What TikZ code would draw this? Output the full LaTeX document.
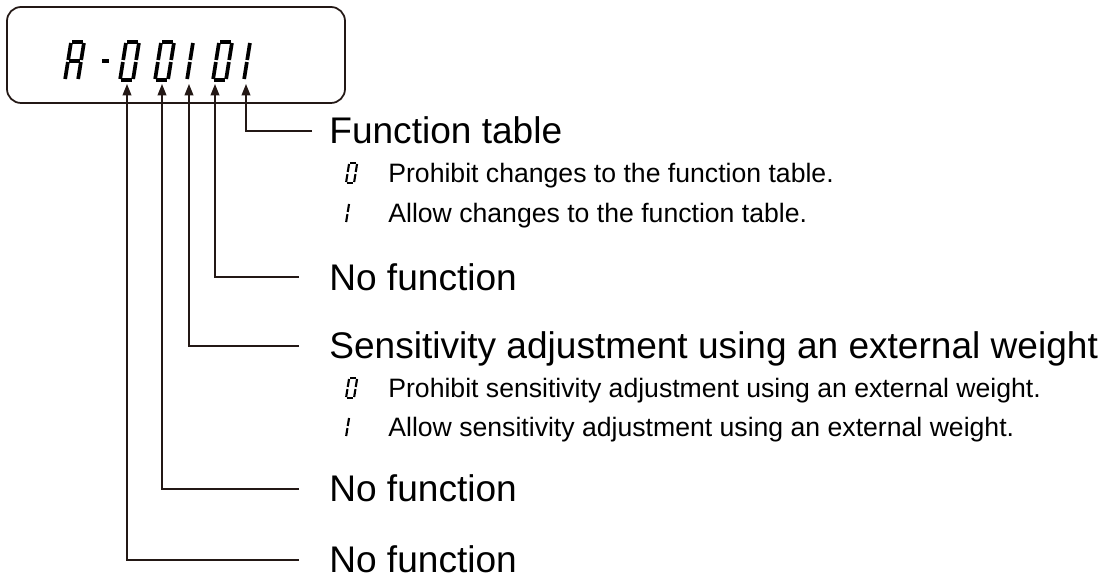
\documentclass[tikz,border=0pt]{standalone}
\usepackage{fontspec}
\setmainfont{Liberation Sans}
\usetikzlibrary{arrows.meta}
\definecolor{ink}{HTML}{231815}
\newcommand\sevseg[6]{% #1 x, #2 y bottom, #3 W, #4 H, #5 segments, #6 line width
  \begin{scope}[shift={(#1,#2)},x=0.02cm,y=0.02cm,xslant=0.16,line width=#6,line cap=butt]
    \pgfmathsetmacro\sW{#3}\pgfmathsetmacro\sH{#4}\pgfmathsetmacro\sM{#4/2}
    \def\sg{1.0}
    \foreach \s in {#5}{%
      \ifcase\s
        \draw (\sg,\sH) -- (\sW-\sg,\sH);
      \or
        \draw (\sW,\sH-\sg) -- (\sW,\sM+\sg);
      \or
        \draw (\sW,\sM-\sg) -- (\sW,\sg);
      \or
        \draw (\sg,0) -- (\sW-\sg,0);
      \or
        \draw (0,\sg) -- (0,\sM-\sg);
      \or
        \draw (0,\sM+\sg) -- (0,\sH-\sg);
      \or
        \draw (\sg,\sM) -- (\sW-\sg,\sM);
      \fi}
  \end{scope}}
\tikzset{
  conn/.style={draw=ink,line width=0.85pt,-{Triangle[length=6.5pt,width=5pt]}},
  big/.style={inner sep=0pt,anchor=base west,font=\fontsize{21.1}{25}\selectfont},
  small/.style={inner sep=0pt,anchor=base west,font=\fontsize{15.15}{18}\selectfont},
  panel/.style={draw=ink,line width=1pt,rounded corners=8pt}
}
\begin{document}
\begin{tikzpicture}[x=0.02cm,y=-0.02cm]
\useasboundingbox (0,0) rectangle (1113,580);
% display panel
\draw[panel] (7,7) rectangle (345,103);
% display characters
\sevseg{65}{80}{13}{38}{0,1,2,4,5,6}{2.1pt}
\sevseg{98}{80}{9}{38}{6}{2.1pt}
\sevseg{120}{80}{13}{38}{0,1,2,3,4,5}{2.1pt}
\sevseg{155}{80}{13}{38}{0,1,2,3,4,5}{2.1pt}
\sevseg{187}{80}{0}{38}{1,2}{2.1pt}
\sevseg{213}{80}{13}{38}{0,1,2,3,4,5}{2.1pt}
\sevseg{244}{80}{0}{38}{1,2}{2.1pt}
% arrow tip coordinates under the digits
\coordinate (d1) at (246,84);
\coordinate (d2) at (215,84);
\coordinate (d3) at (189,84);
\coordinate (d4) at (162,84);
\coordinate (d5) at (127,84);
% line end coordinates
\coordinate (e1) at (312,131);
\coordinate (e2) at (299,277);
\coordinate (e3) at (299,346);
\coordinate (e4) at (299,489);
\coordinate (e5) at (299,560);
% labels
\node[big] (l1) at (329,144) {Function table};
\node[big] (l2) at (329,291) {No function};
\node[big] (l3) at (329,359) {Sensitivity adjustment using an external weight};
\node[big] (l4) at (329,502) {No function};
\node[big] (l5) at (329,573) {No function};
% sub items
\sevseg{346}{183}{8}{20}{0,1,2,3,4,5}{1.2pt}
\node[small] (s1) at (388,183) {Prohibit changes to the function table.};
\sevseg{346}{223}{0}{20}{1,2}{1.2pt}
\node[small] (s2) at (388,223) {Allow changes to the function table.};
\sevseg{346}{398}{8}{20}{0,1,2,3,4,5}{1.2pt}
\node[small] (s3) at (388,398) {Prohibit sensitivity adjustment using an external weight.};
\sevseg{346}{437}{0}{20}{1,2}{1.2pt}
\node[small] (s4) at (388,437) {Allow sensitivity adjustment using an external weight.};
% connectors
\draw[conn] (e1) -| (d1);
\draw[conn] (e2) -| (d2);
\draw[conn] (e3) -| (d3);
\draw[conn] (e4) -| (d4);
\draw[conn] (e5) -| (d5);
\end{tikzpicture}
\end{document}
